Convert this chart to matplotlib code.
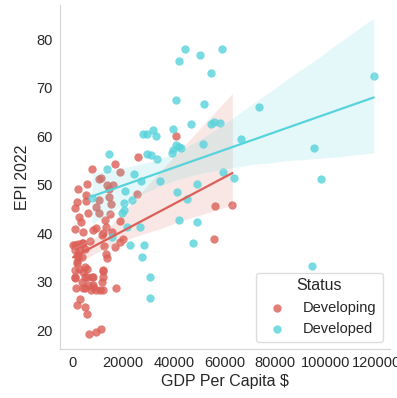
import matplotlib
matplotlib.use("Agg")
import matplotlib.pyplot as plt
import numpy as np
import pandas as pd
import seaborn as sns

# GDP per capita ($) and EPI 2022 score
developed_gdp = [
    44500, 42100, 50400, 59200, 54600, 40700, 52000, 46700, 54600, 55800,
    58100, 39500, 31900, 27900, 29300, 33100, 51700, 40900, 42100, 43000,
    39400, 39800, 29500, 31000, 33500, 14500, 13700, 24300, 27000, 34400,
    59300, 20600, 41100, 49300, 7700, 23700, 20500, 19500, 20300, 45100,
    42000, 49100, 21400, 26800, 15500, 22800, 28300, 47400, 27600, 30500,
    30600, 73700, 66500, 95200, 118800, 63900, 97900, 94400,
]
developed_epi = [
    77.9, 75.4, 76.8, 78.0, 73.0, 67.4, 66.7, 62.5, 62.5, 63.0,
    62.7, 61.5, 61.3, 60.4, 60.4, 60.1, 58.4, 58.2, 57.7, 57.5,
    56.5, 57.2, 56.4, 56.2, 55.3, 56.4, 53.3, 52.2, 50.7, 50.8,
    52.7, 48.7, 48.5, 50.2, 47.2, 46.8, 46.3, 44.1, 44.7, 47.1,
    42.7, 42.3, 41.3, 41.2, 39.2, 37.6, 37.6, 38.0, 35.1, 30.9,
    26.6, 66.1, 59.5, 57.5, 72.5, 51.3, 51.1, 33.2,
]

developing_gdp = [
    10500, 11400, 13500, 16100, 14500, 2300, 5800, 5300, 25600, 25800,
    17000, 7700, 18700, 2000, 5300, 10600, 14500, 15100, 9200, 10600,
    6000, 1100, 2700, 3500, 14800, 12800, 18800, 1000, 4000, 8200,
    9300, 13200, 12200, 15500, 19800, 18700, 300, 2300, 4300, 6900,
    3000, 4900, 12400, 16800, 13200, 13500, 2300, 1700, 2700, 5600,
    8200, 12200, 11900, 1100, 4900, 8200, 1400, 4300, 7300, 10800,
    17400, 3200, 1900, 4900, 5600, 6500, 9300, 11100,
    1000, 3600, 1000, 1700, 3600, 1700, 4900, 1000, 4300, 5600,
    7600, 1000, 3600, 6200, 4900, 8200, 9500, 12200, 11500, 11900,
    40900, 56300, 63100, 55900, 11500,
]
developing_epi = [
    51.1, 51.3, 49.9, 50.0, 49.0, 49.1, 50.2, 47.9, 48.0, 55.7,
    54.3, 53.3, 52.6, 46.5, 46.6, 46.8, 47.5, 46.1, 45.4, 44.1,
    44.1, 45.1, 43.4, 42.2, 43.9, 42.7, 42.5, 40.8, 40.3, 40.6,
    41.1, 41.2, 40.1, 40.3, 38.7, 38.2, 37.5, 37.7, 38.0, 38.4,
    36.5, 36.8, 37.3, 37.2, 35.7, 34.8, 35.1, 33.8, 32.7, 32.7,
    31.0, 32.2, 31.0, 31.0, 31.0, 29.3, 28.6, 28.6, 28.2, 28.2,
    28.6, 26.5, 25.2, 24.8, 23.3, 19.2, 19.6, 20.3,
    37.5, 37.9, 36.5, 35.5, 35.1, 34.1, 33.1, 32.4, 32.0, 31.0,
    31.0, 30.7, 30.0, 29.3, 28.6, 28.9, 28.2, 28.2, 30.0, 32.4,
    60.1, 45.6, 45.8, 38.7, 39.6,
]

status_order = ["Developing", "Developed"]
x_ticks = [0, 20000, 40000, 60000, 80000, 100000, 120000]
y_ticks = [20, 30, 40, 50, 60, 70, 80]

df = pd.DataFrame({
    "GDP Per Capita $": developing_gdp + developed_gdp,
    "EPI 2022": developing_epi + developed_epi,
    "Status": ["Developing"] * len(developing_gdp) + ["Developed"] * len(developed_gdp),
})

sns.set_style("whitegrid")
plt.rcParams["font.family"] = ["Liberation Sans", "DejaVu Sans"]

palette = sns.color_palette("hls", 2)

fig = plt.figure(figsize=(3.97, 3.98), dpi=100)
ax = fig.add_axes([0.151, 0.123, 0.831, 0.864])

for status, color in zip(status_order, palette):
    sub = df[df["Status"] == status]
    sns.regplot(
        data=sub, x="GDP Per Capita $", y="EPI 2022", ax=ax, color=color,
        label=status, seed=0, truncate=True,
        scatter_kws={"s": 36, "linewidths": 0},
        line_kws={"lw": 1.6},
    )

ax.grid(False)
sns.despine(ax=ax)
for side in ["left", "bottom"]:
    ax.spines[side].set_color("#d5d5d5")
ax.set_xlim(-4900, 125200)
ax.set_ylim(16.1, 87.0)
ax.set_xticks(x_ticks)
ax.set_yticks(y_ticks)
ax.tick_params(labelsize=10.5, colors="#262626", length=0, pad=5)
ax.set_xlabel("GDP Per Capita $", fontsize=11.5, color="#262626", labelpad=3)
ax.set_ylabel("EPI 2022", fontsize=11.5, color="#262626", labelpad=5)

leg = ax.legend(title="Status", loc="lower right", fontsize=10.5,
                title_fontsize=11.5, scatterpoints=1, frameon=True,
                borderaxespad=0.5, borderpad=0.4, labelspacing=0.5)
leg.get_frame().set_edgecolor("#d5d5d5")

fig.savefig("out.png", dpi=100)
